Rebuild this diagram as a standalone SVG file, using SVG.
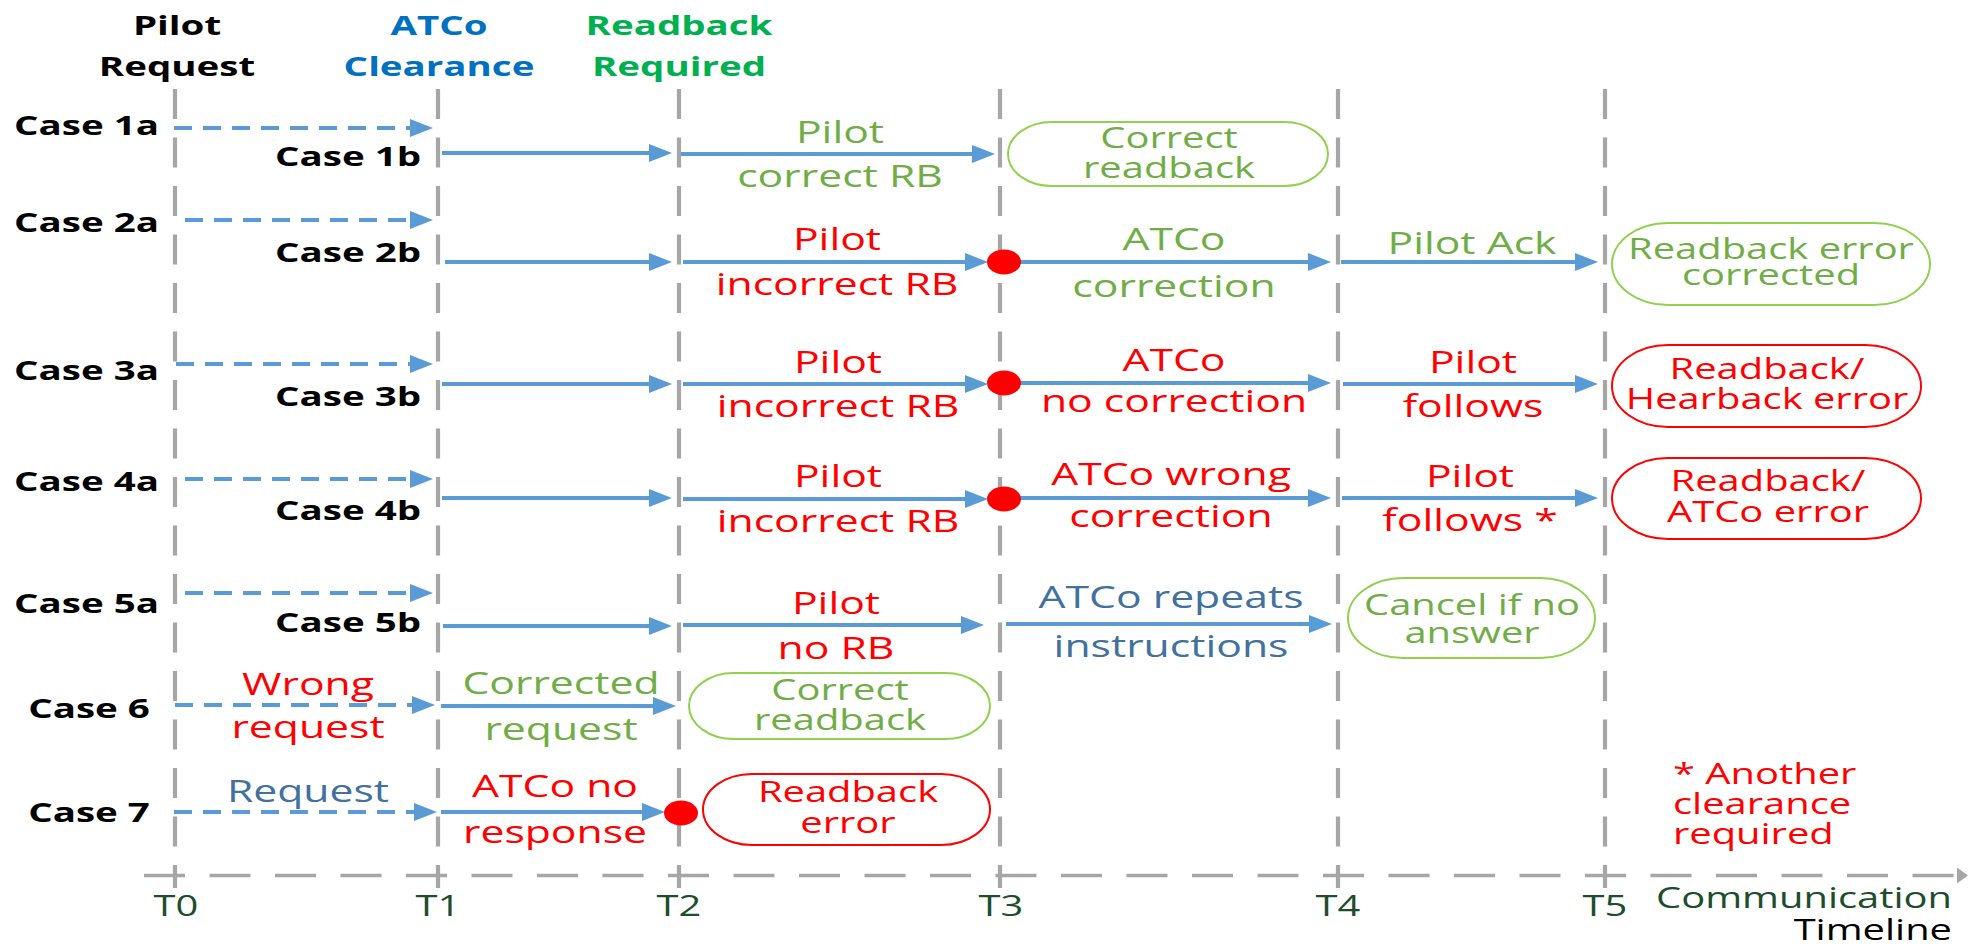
<svg xmlns="http://www.w3.org/2000/svg" width="1978" height="944" viewBox="0 0 1978 944">
<defs>
<style>
text{font-family:'Open Sans','Noto Sans',sans-serif;text-anchor:middle}
.b{font-weight:700;font-size:27.5px}
.l{font-size:30.5px}
.p{font-size:28.5px}
.k{fill:#000}
.r{fill:#FF0000}
.g{fill:#70AD47}
.s{fill:#41719C}
.d{fill:#1D4D2C}
.blu{fill:#0070C0}
.gg{fill:#00B050}
.grid{stroke:#A6A6A6;stroke-width:4.2;stroke-dasharray:30 18.5;fill:none}
.axis{stroke:#A6A6A6;stroke-width:3.3;stroke-dasharray:41 24.5;fill:none}
.a{stroke:#5B9BD5;stroke-width:4;fill:none;marker-end:url(#ah)}
.ad{stroke:#5B9BD5;stroke-width:4;fill:none;stroke-dasharray:18 11;marker-end:url(#ah)}
.pg{fill:#fff;stroke:#92D050;stroke-width:2}
.pr{fill:#fff;stroke:#FF0000;stroke-width:2}
.dot{fill:#FF0000}
</style>
<marker id="ah" markerUnits="userSpaceOnUse" markerWidth="24" markerHeight="20" refX="0" refY="9" orient="auto">
<path d="M0,0 L23,9 L0,18 Z" fill="#5B9BD5"/>
</marker>
<marker id="axh" markerUnits="userSpaceOnUse" markerWidth="12" markerHeight="18" refX="0" refY="8" orient="auto">
<path d="M0,0 L11,8 L0,16 Z" fill="#A6A6A6"/>
</marker>
</defs>
<rect width="1978" height="944" fill="#fff"/>

<g id="gridlines">
<line class="grid" x1="175" y1="89" x2="175" y2="888"/>
<line class="grid" x1="438" y1="89" x2="438" y2="888"/>
<line class="grid" x1="679" y1="89" x2="679" y2="888"/>
<line class="grid" x1="1000" y1="89" x2="1000" y2="888"/>
<line class="grid" x1="1338" y1="89" x2="1338" y2="888"/>
<line class="grid" x1="1605" y1="89" x2="1605" y2="888"/>
<line class="axis" x1="144" y1="875.5" x2="1957" y2="875.5" marker-end="url(#axh)"/>
</g>

<g id="headers">
<text class="b k" transform="matrix(1.4 0 0 1 177 35)"><tspan x="0" y="0">Pilot</tspan><tspan x="0" y="41">Request</tspan></text>
<text class="b blu" transform="matrix(1.4 0 0 1 439 35)"><tspan x="0" y="0">ATCo</tspan><tspan x="0" y="41">Clearance</tspan></text>
<text class="b gg" transform="matrix(1.4 0 0 1 679 35)"><tspan x="0" y="0">Readback</tspan><tspan x="0" y="41">Required</tspan></text>
</g>

<g id="time-labels">
<text class="p d" transform="matrix(1.4 0 0 1 176 916)">T0</text>
<text class="p d" transform="matrix(1.4 0 0 1 438 916)">T1</text>
<text class="p d" transform="matrix(1.4 0 0 1 679 916)">T2</text>
<text class="p d" transform="matrix(1.4 0 0 1 1001 916)">T3</text>
<text class="p d" transform="matrix(1.4 0 0 1 1338 916)">T4</text>
<text class="p d" transform="matrix(1.4 0 0 1 1605 916)">T5</text>
<text class="p d" transform="matrix(1.4 0 0 1 1952 908)" style="text-anchor:end">Communication</text>
<text class="p k" transform="matrix(1.4 0 0 1 1952 940)" style="text-anchor:end">Timeline</text>
</g>

<g id="case-labels">
<text class="b k" transform="matrix(1.4 0 0 1 86.5 135)">Case 1a</text>
<text class="b k" transform="matrix(1.4 0 0 1 348 166)">Case 1b</text>
<text class="b k" transform="matrix(1.4 0 0 1 86.5 232)">Case 2a</text>
<text class="b k" transform="matrix(1.4 0 0 1 348 262)">Case 2b</text>
<text class="b k" transform="matrix(1.4 0 0 1 86.5 380)">Case 3a</text>
<text class="b k" transform="matrix(1.4 0 0 1 348 406)">Case 3b</text>
<text class="b k" transform="matrix(1.4 0 0 1 86.5 491)">Case 4a</text>
<text class="b k" transform="matrix(1.4 0 0 1 348 520)">Case 4b</text>
<text class="b k" transform="matrix(1.4 0 0 1 86.5 613)">Case 5a</text>
<text class="b k" transform="matrix(1.4 0 0 1 348 632)">Case 5b</text>
<text class="b k" transform="matrix(1.4 0 0 1 89 718)">Case 6</text>
<text class="b k" transform="matrix(1.4 0 0 1 89 822)">Case 7</text>
</g>

<g id="connectors">
<line class="ad" x1="174" y1="128" x2="410" y2="128"/>
<line class="a" x1="442" y1="153" x2="649" y2="153"/>
<line class="a" x1="681" y1="154" x2="972" y2="154"/>
<line class="ad" x1="185" y1="220" x2="410" y2="220"/>
<line class="a" x1="445" y1="262" x2="649" y2="262"/>
<line class="a" x1="683" y1="262" x2="965" y2="262"/>
<line class="a" x1="1018" y1="262" x2="1308" y2="262"/>
<line class="a" x1="1341" y1="262" x2="1575" y2="262"/>
<line class="ad" x1="176" y1="364" x2="410" y2="364"/>
<line class="a" x1="442" y1="384" x2="649" y2="384"/>
<line class="a" x1="683" y1="384" x2="965" y2="384"/>
<line class="a" x1="1018" y1="383" x2="1308" y2="383"/>
<line class="a" x1="1343" y1="384" x2="1575" y2="384"/>
<line class="ad" x1="185" y1="479" x2="410" y2="479"/>
<line class="a" x1="442" y1="498" x2="649" y2="498"/>
<line class="a" x1="683" y1="499" x2="965" y2="499"/>
<line class="a" x1="1018" y1="498" x2="1308" y2="498"/>
<line class="a" x1="1342" y1="498" x2="1575" y2="498"/>
<line class="ad" x1="185" y1="593" x2="410" y2="593"/>
<line class="a" x1="443" y1="626" x2="649" y2="626"/>
<line class="a" x1="683" y1="625" x2="961" y2="625"/>
<line class="a" x1="1006" y1="624" x2="1309" y2="624"/>
<line class="ad" x1="175" y1="705" x2="412" y2="705"/>
<line class="a" x1="441" y1="706" x2="653" y2="706"/>
<line class="ad" x1="174" y1="812" x2="414" y2="812"/>
<line class="a" x1="441" y1="812" x2="642" y2="812"/>
</g>

<g id="error-dots">
<ellipse class="dot" cx="1004" cy="262" rx="17" ry="12.5"/>
<ellipse class="dot" cx="1004" cy="383" rx="17" ry="12.5"/>
<ellipse class="dot" cx="1004" cy="499" rx="17" ry="12.5"/>
<ellipse class="dot" cx="681" cy="813" rx="17" ry="12.5"/>
</g>

<g id="connector-labels">
<text class="l g" transform="matrix(1.4 0 0 1 840 143)"><tspan x="0" y="0">Pilot</tspan><tspan x="0" y="44">correct RB</tspan></text>
<text class="l r" transform="matrix(1.4 0 0 1 837 250)"><tspan x="0" y="0">Pilot</tspan><tspan x="0" y="45">incorrect RB</tspan></text>
<text class="l g" transform="matrix(1.4 0 0 1 1174 250)"><tspan x="0" y="0">ATCo</tspan><tspan x="0" y="47">correction</tspan></text>
<text class="l g" transform="matrix(1.4 0 0 1 1472 254)">Pilot Ack</text>
<text class="l r" transform="matrix(1.4 0 0 1 838 373)"><tspan x="0" y="0">Pilot</tspan><tspan x="0" y="44">incorrect RB</tspan></text>
<text class="l r" transform="matrix(1.4 0 0 1 1174 371)"><tspan x="0" y="0">ATCo</tspan><tspan x="0" y="41">no correction</tspan></text>
<text class="l r" transform="matrix(1.4 0 0 1 1473 373)"><tspan x="0" y="0">Pilot</tspan><tspan x="0" y="44">follows</tspan></text>
<text class="l r" transform="matrix(1.4 0 0 1 838 487)"><tspan x="0" y="0">Pilot</tspan><tspan x="0" y="45">incorrect RB</tspan></text>
<text class="l r" transform="matrix(1.4 0 0 1 1171 485)"><tspan x="0" y="0">ATCo wrong</tspan><tspan x="0" y="42">correction</tspan></text>
<text class="l r" transform="matrix(1.4 0 0 1 1470 487)"><tspan x="0" y="0">Pilot</tspan><tspan x="0" y="44">follows *</tspan></text>
<text class="l r" transform="matrix(1.4 0 0 1 836 614)"><tspan x="0" y="0">Pilot</tspan><tspan x="0" y="45">no RB</tspan></text>
<text class="l s" transform="matrix(1.4 0 0 1 1171 608)"><tspan x="0" y="0">ATCo repeats</tspan><tspan x="0" y="49">instructions</tspan></text>
<text class="l r" transform="matrix(1.4 0 0 1 308 695)"><tspan x="0" y="0">Wrong</tspan><tspan x="0" y="43">request</tspan></text>
<text class="l g" transform="matrix(1.4 0 0 1 561 694)"><tspan x="0" y="0">Corrected</tspan><tspan x="0" y="46">request</tspan></text>
<text class="l s" transform="matrix(1.4 0 0 1 308 802)">Request</text>
<text class="l r" transform="matrix(1.4 0 0 1 555 797)"><tspan x="0" y="0">ATCo no</tspan><tspan x="0" y="46">response</tspan></text>
</g>

<g id="outcome-1">
<rect class="pg" x="1008" y="122" width="320" height="64" rx="44" ry="32"/>
<text class="p g" transform="matrix(1.4 0 0 1 1169 148)"><tspan x="0" y="0">Correct</tspan><tspan x="0" y="30">readback</tspan></text>
</g>
<g id="outcome-2">
<rect class="pg" x="1612" y="223" width="318" height="82" rx="56" ry="41"/>
<text class="p g" transform="matrix(1.4 0 0 1 1771 259)"><tspan x="0" y="0">Readback error</tspan><tspan x="0" y="26">corrected</tspan></text>
</g>
<g id="outcome-3">
<rect class="pr" x="1612" y="345" width="309" height="82" rx="56" ry="41"/>
<text class="p r" transform="matrix(1.4 0 0 1 1767 379)"><tspan x="0" y="0">Readback/</tspan><tspan x="0" y="30">Hearback error</tspan></text>
</g>
<g id="outcome-4">
<rect class="pr" x="1612" y="458" width="309" height="81" rx="56" ry="40.5"/>
<text class="p r" transform="matrix(1.4 0 0 1 1768 491)"><tspan x="0" y="0">Readback/</tspan><tspan x="0" y="31">ATCo error</tspan></text>
</g>
<g id="outcome-5">
<rect class="pg" x="1348" y="578" width="247" height="80" rx="55" ry="40"/>
<text class="p g" transform="matrix(1.4 0 0 1 1472 615)"><tspan x="0" y="0">Cancel if no</tspan><tspan x="0" y="28">answer</tspan></text>
</g>
<g id="outcome-6">
<rect class="pg" x="689" y="673" width="301" height="66" rx="45" ry="33"/>
<text class="p g" transform="matrix(1.4 0 0 1 840 700)"><tspan x="0" y="0">Correct</tspan><tspan x="0" y="30">readback</tspan></text>
</g>
<g id="outcome-7">
<rect class="pr" x="703" y="774" width="287" height="71" rx="49" ry="35.5"/>
<text class="p r" transform="matrix(1.4 0 0 1 848 802)"><tspan x="0" y="0">Readback</tspan><tspan x="0" y="31">error</tspan></text>
</g>

<g id="footnote">
<text class="p r" style="text-anchor:start" transform="matrix(1.4 0 0 1 1673 784)"><tspan x="0" y="0">* Another</tspan><tspan x="0" y="30">clearance</tspan><tspan x="0" y="60">required</tspan></text>
</g>
</svg>
